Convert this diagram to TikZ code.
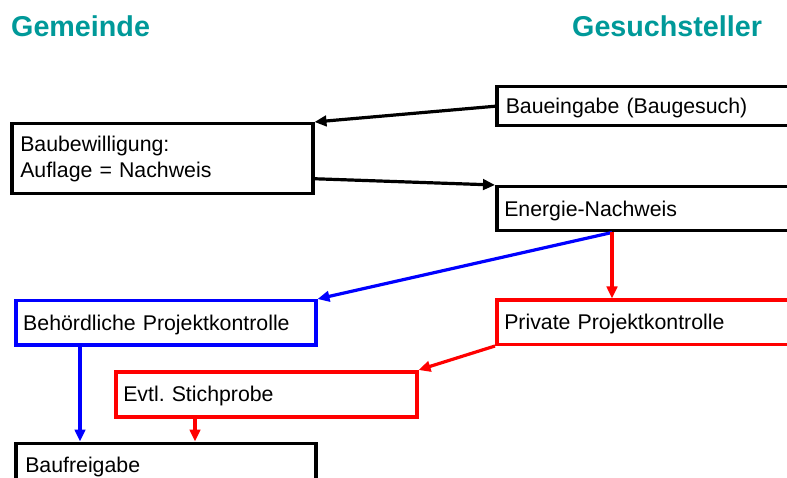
\documentclass[tikz,border=0pt]{standalone}
\usepackage{fontspec}
\setmainfont{Liberation Sans}
\usepackage{xcolor}
\usetikzlibrary{arrows.meta,positioning,calc}
\definecolor{titelteal}{RGB}{0,153,153}
\frenchspacing
\tikzset{
  kasten/.style={draw, line width=3.5pt, rectangle, anchor=north west, inner xsep=7.5pt, inner ysep=0pt,
    align=left, font=\fontsize{21.3}{26}\selectfont},
  zeile/.style={text height=15.3pt, text depth=0pt},
  titel/.style={anchor=base west, inner sep=0pt, text=titelteal, font=\fontsize{28.7}{30}\selectfont\bfseries},
  pfeil/.style={line width=3.2pt, -{Triangle[length=12pt,width=10.5pt]}}
}
\begin{document}
\begin{tikzpicture}[x=1pt,y=-1pt]
\useasboundingbox (0,0) rectangle (787,478);
\clip (0,0) rectangle (787,478);
% Drawing titles
\node[titel] (gemeinde) at (11,37) {Gemeinde};
\node[titel] (gesuch) at (572,37) {Gesuchsteller};
% Done with titles; drawing boxes
% Line 1: Gesuchsteller side
\node[kasten, zeile, minimum width=340pt, minimum height=39pt, inner xsep=9pt, text width=322pt] (bauein) at (495,85) {Baueingabe (Baugesuch)};
\node[kasten, zeile, minimum width=340pt, minimum height=44pt, text width=325pt] (energie) at (495,185) {Energie-Nachweis};
\node[kasten, zeile, draw=red, minimum width=340pt, minimum height=44pt, text width=325pt] (privat) at (495,298.5) {Private Projektkontrolle};
% Line 2: Gemeinde side
\node[kasten, minimum width=301pt, minimum height=70pt, inner xsep=8.5pt, text width=284pt] (baubew) at (10,122) {Baubewilligung:\\Auflage = Nachweis};
\node[kasten, zeile, draw=blue, minimum width=300pt, minimum height=44pt, text width=285pt] (behoerd) at (14,299) {Behördliche Projektkontrolle};
\node[kasten, zeile, draw=red, minimum width=301pt, minimum height=45pt, text width=286pt] (stich) at (114,370) {Evtl. Stichprobe};
\node[kasten, zeile, minimum width=300pt, minimum height=44pt, inner xsep=9.5pt, text width=281pt] (baufrei) at (14,441.5) {Baufreigabe};
% Done with boxes; drawing arrows
\coordinate (abzw) at ([xshift=117pt]energie.south west);
\draw[pfeil] (bauein.west) -- (baubew.north east);
\draw[pfeil] ([yshift=-20pt]baubew.east) -- (energie.north west);
\draw[pfeil, blue] (abzw) -- (behoerd.north east);
\draw[pfeil, red] (abzw) -- (abzw |- privat.north);
\draw[pfeil, red] (privat.south west) -- (stich.north east);
\draw[pfeil, blue] ([xshift=66pt]behoerd.south west) -- ([xshift=66pt]behoerd.south west |- baufrei.north);
\draw[pfeil, red] ([xshift=81pt]stich.south west) -- ([xshift=81pt]stich.south west |- baufrei.north);
% Done with arrows
\end{tikzpicture}
\end{document}
